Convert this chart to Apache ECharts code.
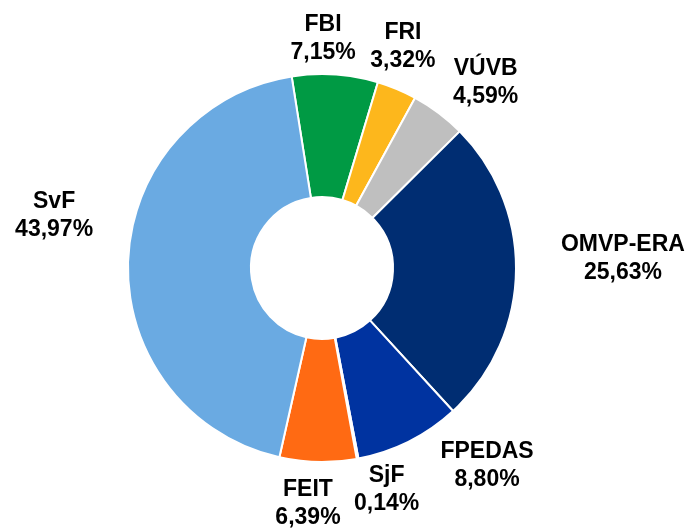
<!DOCTYPE html>
<html>
<head>
<meta charset="utf-8">
<script src="https://cdn.jsdelivr.net/npm/echarts@6/dist/echarts.min.js"></script>
<style>
html,body{margin:0;padding:0;background:#fff;}
#chart{width:689px;height:532px;}
</style>
</head>
<body>
<div id="chart"></div>
<script>
// Data
var categories = ['FBI', 'FRI', 'VÚVB', 'OMVP-ERA', 'FPEDAS', 'SjF', 'FEIT', 'SvF'];
var shares = [7.15, 3.32, 4.59, 25.63, 8.80, 0.14, 6.39, 43.97];
var labelTexts = ['7,15%', '3,32%', '4,59%', '25,63%', '8,80%', '0,14%', '6,39%', '43,97%'];

// Styles
var colors = ['#009A44', '#FDB71C', '#BFBFBF', '#002D72', '#0033A0', '#F2F2F2', '#FF6A13', '#6AAAE2'];
// label offset (px) from the slice's outer mid-point, as placed in the reference
var labelNudge = [[-12, -36], [6, -42], [47, -30], [107, -14], [78, 24], [29, 31], [-10, 42], [-74, -46]];

var chart = echarts.init(document.getElementById('chart'), null, {renderer: 'canvas'});

var data = categories.map(function (c, i) {
  return {name: c, value: shares[i], itemStyle: {color: colors[i]}};
});

chart.setOption({
  animation: false,
  backgroundColor: '#ffffff',
  series: [{
    type: 'pie',
    center: [322, 268],
    radius: [71, 194],
    startAngle: 99,
    clockwise: true,
    avoidLabelOverlap: false,
    data: data,
    itemStyle: {borderColor: '#ffffff', borderWidth: 2},
    label: {
      show: true,
      position: 'outside',
      formatter: function (p) { return p.name + '\n' + labelTexts[p.dataIndex]; },
      fontFamily: 'Liberation Sans, Arial, sans-serif',
      fontWeight: 'bold',
      fontSize: 23,
      lineHeight: 28,
      color: '#000000',
      align: 'center'
    },
    labelLine: {show: true, length: 1, length2: 1, lineStyle: {opacity: 0, width: 0}},
    labelLayout: function (p) {
      var pts = p.labelLinePoints;
      var n = labelNudge[p.dataIndex];
      if (!pts) return {};
      return {
        x: pts[0][0] + n[0],
        y: pts[0][1] + n[1],
        align: 'center',
        verticalAlign: 'middle'
      };
    },
    emphasis: {disabled: true}
  }]
});
</script>
</body>
</html>
